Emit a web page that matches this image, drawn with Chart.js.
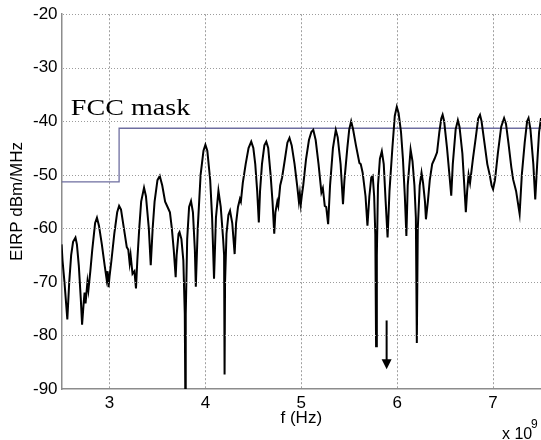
<!DOCTYPE html>
<html>
<head>
<meta charset="utf-8">
<script src="https://cdn.jsdelivr.net/npm/chart.js@4.4.1/dist/chart.umd.min.js"></script>
<style>
  html, body { margin: 0; padding: 0; background: #fff; }
  #wrap { width: 541px; height: 440px; }
</style>
</head>
<body>
<div id="wrap"><canvas id="eirpChart"></canvas></div>
<script>
// frequentie in eenheden van 10^9 Hz, gelezen van de figuur
const freqGHz = [
  2.50, 2.51, 2.53, 2.56, 2.58, 2.60, 2.62, 2.645, 2.66, 2.68,
  2.70, 2.714, 2.73, 2.74, 2.75, 2.77, 2.78, 2.80, 2.82, 2.85,
  2.869, 2.89, 2.92, 2.95, 2.97, 2.98, 2.99, 3.00, 3.02, 3.05,
  3.08, 3.10, 3.12, 3.15, 3.18, 3.196, 3.21, 3.22, 3.24, 3.26,
  3.276, 3.29, 3.31, 3.33, 3.36, 3.38, 3.41, 3.43, 3.45, 3.47,
  3.50, 3.524, 3.55, 3.58, 3.61, 3.63, 3.65, 3.67, 3.69, 3.70,
  3.72, 3.73, 3.75, 3.77, 3.785, 3.79, 3.795, 3.81, 3.83, 3.85,
  3.87, 3.89, 3.90, 3.92, 3.95, 3.98, 4.00, 4.02, 4.05, 4.07,
  4.09, 4.11, 4.136, 4.16, 4.185, 4.195, 4.20, 4.205, 4.22, 4.24,
  4.257, 4.28, 4.305, 4.32, 4.34, 4.36, 4.37, 4.39, 4.42, 4.45,
  4.478, 4.50, 4.52, 4.54, 4.557, 4.57, 4.59, 4.615, 4.635, 4.655,
  4.68, 4.70, 4.718, 4.73, 4.75, 4.76, 4.78, 4.80, 4.83, 4.855,
  4.877, 4.90, 4.93, 4.96, 4.975, 4.985, 4.995, 5.005, 5.02, 5.05,
  5.08, 5.105, 5.125, 5.15, 5.18, 5.21, 5.225, 5.245, 5.26, 5.28,
  5.30, 5.33, 5.36, 5.38, 5.41, 5.435, 5.45, 5.48, 5.50, 5.52,
  5.54, 5.57, 5.606, 5.62, 5.64, 5.67, 5.69, 5.71, 5.73, 5.745,
  5.76, 5.772, 5.78, 5.788, 5.80, 5.82, 5.84, 5.86, 5.88, 5.90,
  5.92, 5.95, 5.975, 5.996, 6.015, 6.04, 6.06, 6.08, 6.096, 6.11,
  6.14, 6.16, 6.18, 6.195, 6.205, 6.215, 6.235, 6.254, 6.27, 6.29,
  6.30, 6.32, 6.34, 6.365, 6.39, 6.416, 6.44, 6.46, 6.474, 6.49,
  6.52, 6.545, 6.564, 6.58, 6.61, 6.633, 6.65, 6.68, 6.70, 6.716,
  6.73, 6.745, 6.76, 6.79, 6.82, 6.845, 6.864, 6.88, 6.91, 6.94,
  6.965, 6.985, 7.00, 7.02, 7.05, 7.085, 7.115, 7.135, 7.16, 7.19,
  7.21, 7.24, 7.277, 7.30, 7.33, 7.355, 7.37, 7.39, 7.42, 7.44,
  7.46, 7.48, 7.50
];
// EIRP in dBm/MHz
const eirp = [
  -63, -66, -70, -77, -70, -65, -62.5, -61.7, -63, -67,
  -73, -78, -74, -72, -74, -70, -71.5, -68, -64, -59,
  -58, -59.5, -63, -67, -69.5, -68, -71, -69, -66, -61,
  -57, -55.8, -56.5, -60, -63.5, -64, -66.5, -65, -68.5, -68,
  -71.2, -66, -60, -55, -52.4, -54, -60, -66.9, -60, -55,
  -51, -50.2, -52, -55, -56.2, -57, -60, -64, -69.1, -65,
  -61, -60.7, -62, -66, -76, -90, -76, -62, -56, -54.9,
  -57, -64, -70.9, -60, -50, -45.5, -44.4, -45.5, -51, -58,
  -69.4, -58, -53, -56, -62, -65, -87.3, -70, -61, -57.5,
  -56.7, -59, -64.8, -59, -56, -54.5, -55, -51.5, -48, -45,
  -43.8, -45, -48, -53, -58.9, -53, -48, -44.5, -43.8, -45,
  -50, -55, -61, -57, -55, -55.8, -52, -50.5, -47, -44,
  -43.1, -44.5, -48, -52.5, -55, -53.5, -55.5, -54, -52, -47,
  -43.5, -42, -41.6, -43.5, -48, -53.3, -52.5, -55.8, -56, -59.2,
  -52, -45, -41.6, -43, -48, -55.5, -51, -45, -41.5, -40,
  -41.5, -44.5, -47.8, -48, -49.6, -54, -59.5, -54, -50.5, -50.2,
  -54, -61.1, -82, -65, -52, -47, -45.6, -48, -55, -61.7,
  -53, -45, -39, -37.3, -38.5, -42, -47, -54, -61.4, -52,
  -45.3, -47.5, -52, -58, -81.4, -60, -52, -49.6, -51.5, -55,
  -58.3, -55, -51, -48, -47, -45.8, -42, -39.5, -38.8, -40,
  -45, -50, -53.9, -48, -41.5, -39.8, -41, -46, -52, -57,
  -53, -50, -51.5, -47, -43, -39.5, -38.8, -40, -44, -48,
  -50, -52, -52.7, -51, -46, -41, -39.4, -40.5, -44, -48.5,
  -50.9, -53, -57.3, -50, -44, -40, -39.4, -41.5, -48, -54.6,
  -48, -42, -39.4
];

// FCC masker (trap)
const maskFreq = [2.5, 3.1, 3.1, 7.5];
const maskLevel = [-51.3, -51.3, -41.3, -41.3];

const xTicks = [3, 4, 5, 6, 7];
const yTicks = [-90, -80, -70, -60, -50, -40, -30, -20];

// pijl bij 5.89 GHz
const arrowFreq = 5.89;
const arrowTop = -77.2;
const arrowTip = -86.3;

const sansFont = '"Liberation Sans", Arial, sans-serif';

// horizontale stippellijnen, getekend over de y-ticks heen
const yGridLines = {
  id: 'yGridLines',
  afterDraw(chart) {
    const { ctx, chartArea, scales: { y } } = chart;
    ctx.save();
    ctx.strokeStyle = '#9c9c9c';
    ctx.lineWidth = 1;
    ctx.setLineDash([1, 2]);
    yTicks.forEach(v => {
      if (v === -90) return;
      const py = Math.round(y.getPixelForValue(v)) + 0.5;
      ctx.beginPath();
      ctx.moveTo(Math.ceil(chartArea.left) + 1, py);
      ctx.lineTo(chartArea.right, py);
      ctx.stroke();
    });
    ctx.restore();
  }
};

const annotations = {
  id: 'annotations',
  afterDatasetsDraw(chart) {
    const { ctx, scales: { x, y } } = chart;
    ctx.save();

    // label "FCC mask"
    ctx.fillStyle = '#000';
    ctx.font = '24px "Liberation Serif", "Times New Roman", serif';
    ctx.textBaseline = 'alphabetic';
    ctx.translate(x.getPixelForValue(2.597), y.getPixelForValue(-38.9));
    ctx.scale(1.17, 1);
    ctx.fillText('FCC mask', 0, 0);
    ctx.setTransform(1, 0, 0, 1, 0, 0);

    // pijl
    const ax = x.getPixelForValue(arrowFreq);
    const ay0 = y.getPixelForValue(arrowTop);
    const ay1 = y.getPixelForValue(arrowTip);
    ctx.strokeStyle = '#000';
    ctx.lineWidth = 2;
    ctx.beginPath();
    ctx.moveTo(ax, ay0);
    ctx.lineTo(ax, ay1 - 8);
    ctx.stroke();
    ctx.beginPath();
    ctx.moveTo(ax - 5, ay1 - 10);
    ctx.lineTo(ax + 5, ay1 - 10);
    ctx.lineTo(ax, ay1);
    ctx.closePath();
    ctx.fill();

    // exponent x 10^9
    ctx.font = '16px ' + sansFont;
    ctx.fillText('x 10', 502, 439);
    ctx.font = '12px ' + sansFont;
    ctx.fillText('9', 531, 428);
    ctx.restore();
  }
};

const ctx = document.getElementById('eirpChart').getContext('2d');

new Chart(ctx, {
  type: 'line',
  data: {
    datasets: [{
      label: 'EIRP',
      data: freqGHz.map((f, i) => ({ x: f, y: eirp[i] })),
      borderColor: '#000',
      borderWidth: 2,
      pointRadius: 0,
      tension: 0,
    }, {
      label: 'FCC mask',
      data: maskFreq.map((f, i) => ({ x: f, y: maskLevel[i] })),
      borderColor: '#6e6ea0',
      borderWidth: 1.3,
      pointRadius: 0,
      tension: 0,
    }],
  },
  options: {
    responsive: true,
    maintainAspectRatio: false,
    animation: false,
    layout: {
      padding: { left: 8.5, right: 0, top: 10, bottom: 10 },
    },
    plugins: {
      legend: { display: false },
      tooltip: { enabled: false },
    },
    scales: {
      x: {
        type: 'linear',
        min: 2.5,
        max: 7.5,
        afterBuildTicks: axis => { axis.ticks = xTicks.map(v => ({ value: v })); },
        grid: { color: '#a0a0a0', lineWidth: 1, drawTicks: false },
        border: { color: '#8c8c8c', width: 1.5, dash: [2, 2] },
        ticks: {
          color: '#000',
          padding: 6,
          font: { family: sansFont, size: 17, lineHeight: 1 },
          maxRotation: 0,
        },
        title: {
          display: true,
          text: 'f (Hz)',
          color: '#000',
          font: { family: sansFont, size: 17, lineHeight: 1 },
          padding: { top: -8, bottom: 3 },
        },
      },
      y: {
        min: -90,
        max: -20,
        afterBuildTicks: axis => { axis.ticks = yTicks.map(v => ({ value: v })); },
        grid: { display: false, drawTicks: false },
        border: { color: '#8c8c8c', width: 1.5 },
        ticks: {
          color: '#000',
          padding: 4,
          font: { family: sansFont, size: 17 },
        },
        title: {
          display: true,
          text: 'EIRP dBm/MHz',
          color: '#000',
          font: { family: sansFont, size: 17, lineHeight: 1 },
          padding: { top: 0, bottom: 3.5 },
        },
      },
    },
  },
  plugins: [annotations, yGridLines],
});
</script>
</body>
</html>
